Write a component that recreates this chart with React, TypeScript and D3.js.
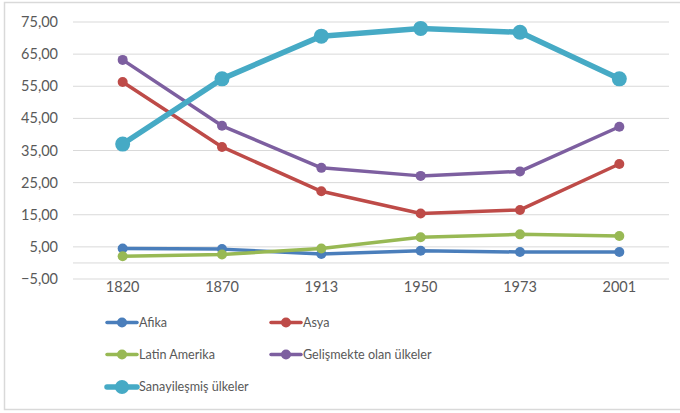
import React from "react";
import * as d3 from "d3";

const categories = ["1820", "1870", "1913", "1950", "1973", "2001"];
const seriesNames = ["Afika", "Asya", "Latin Amerika", "Gelişmekte olan ülkeler", "Sanayileşmiş ülkeler"];
const afika = [4.5, 4.3, 2.8, 3.8, 3.4, 3.4];
const asya = [56.3, 36.1, 22.3, 15.4, 16.5, 30.8];
const latinAmerika = [2.1, 2.6, 4.5, 8.0, 8.9, 8.4];
const gelismekte = [63.2, 42.7, 29.6, 27.1, 28.5, 42.4];
const sanayi = [37.0, 57.3, 70.6, 73.0, 71.8, 57.3];
const yTicks = [-5, 5, 15, 25, 35, 45, 55, 65, 75];
const colors = ["#4A7EBB", "#BE4B48", "#98B954", "#7D5FA0", "#46AAC5"];

const W = 680, H = 413;
const FONT = "Lato, 'Open Sans', sans-serif";

export default function App() {
  const data = [afika, asya, latinAmerika, gelismekte, sanayi];
  const x = d3.scaleBand<string>().domain(categories).range([73, 669]);
  const y = d3.scaleLinear().domain([-5, 75]).range([279, 22]);
  const fmt = (v: number) => d3.format(".2f")(v).replace(".", ",");
  const line = d3.line<number>()
    .x((_, i) => (x(categories[i]) as number) + x.bandwidth() / 2)
    .y((v) => y(v));
  const legendPos = [
    [107, 322.5], [271, 322.5], [107, 354.5], [271, 354.5], [107, 387],
  ];
  return (
    <svg width={W} height={H} style={{ position: "absolute", left: 0, top: 0, background: "#fff" }}>
      <rect x={4.5} y={2.5} width={W + 10} height={407} fill="#fff" stroke="#D9D9D9" strokeWidth={1.5} />
      {yTicks.map((t) => (
        <g key={t}>
          <line x1={73} x2={669} y1={y(t)} y2={y(t)} stroke="#D9D9D9" strokeWidth={1} />
          <text x={58} y={y(t)} dy="0.35em" textAnchor="end" fontFamily={FONT} fontSize={14.5} fill="#595959">
            {fmt(t)}
          </text>
        </g>
      ))}
      <line x1={73} x2={669} y1={y(0)} y2={y(0)} stroke="#D9D9D9" strokeWidth={1} />
      {categories.map((c) => (
        <text key={c} x={(x(c) as number) + x.bandwidth() / 2} y={287} dy="0.35em" textAnchor="middle" fontFamily={FONT} fontSize={14.5} fill="#595959">
          {c}
        </text>
      ))}
      {data.map((s, si) => {
        const big = si === 4;
        return (
          <g key={si}>
            <path d={line(s) || ""} fill="none" stroke={colors[si]} strokeWidth={big ? 5.5 : 3.5} strokeLinejoin="round" />
            {s.map((v, i) => (
              <circle key={i} cx={(x(categories[i]) as number) + x.bandwidth() / 2} cy={y(v)} r={big ? 7.5 : 5} fill={colors[si]} />
            ))}
          </g>
        );
      })}
      {seriesNames.map((n, si) => {
        const [lx, ly] = legendPos[si];
        const big = si === 4;
        return (
          <g key={n}>
            <line x1={lx} x2={lx + 30} y1={ly} y2={ly} stroke={colors[si]} strokeWidth={big ? 5.5 : 3.5} strokeLinecap="round" />
            <circle cx={lx + 15} cy={ly} r={big ? 7 : 5} fill={colors[si]} />
            <text x={lx + 32} y={ly} dy="0.35em" fontFamily={FONT} fontSize={12.6} fill="#595959">
              {n}
            </text>
          </g>
        );
      })}
    </svg>
  );
}
